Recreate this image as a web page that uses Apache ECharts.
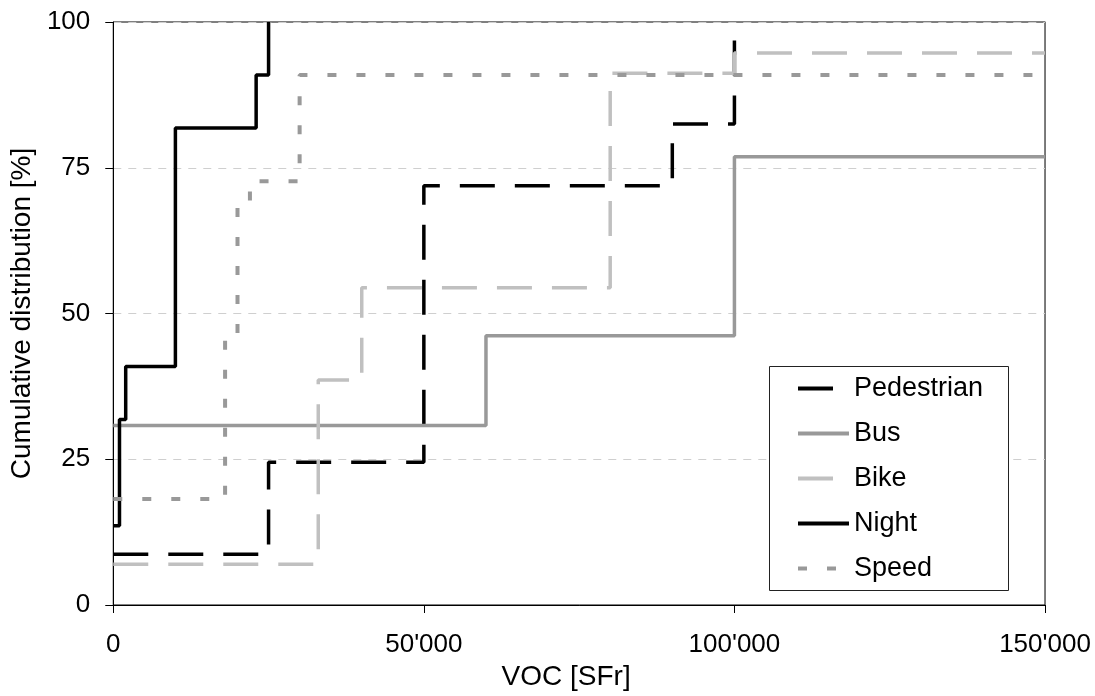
<!DOCTYPE html>
<html>
<head>
<meta charset="utf-8">
<script src="https://cdn.jsdelivr.net/npm/echarts@6/dist/echarts.min.js"></script>
<style>
  html, body { margin: 0; padding: 0; background: #fff; }
  #cdfChart { width: 1095px; height: 696px; }
</style>
</head>
<body>
<div id="cdfChart"></div>
<script>
// step points [VOC in SFr, cumulative %]
var pedestrian = [[0, 8.7], [25000, 24.5], [50000, 71.9], [90000, 82.5], [100000, 100]]
var bus = [[0, 30.8], [60000, 46.2], [100000, 76.9], [150000, 76.9]]
var bike = [[0, 7.0], [33000, 38.6], [40000, 54.4], [80000, 91.2], [100000, 94.7], [150000, 94.7]]
var night = [[0, 13.6], [1000, 31.8], [2000, 40.9], [10000, 81.8], [23000, 90.9], [25000, 100]]
var speed = [[0, 18.2], [18000, 45.5], [20000, 68.2], [22000, 72.7], [30000, 90.9], [150000, 90.9]]

var seriesNames = ['Pedestrian', 'Bus', 'Bike', 'Night', 'Speed']
var xTicks = [0, 50000, 100000, 150000]
var yTicks = [0, 25, 50, 75, 100]

var font = "'Liberation Sans', Arial, sans-serif"

function thousands (v) {
  return String(v).replace(/\B(?=(\d{3})+(?!\d))/g, "'")
}

function stepLine (name, data, color, width, dash) {
  return {
    name: name,
    type: 'line',
    step: 'end',
    data: data,
    symbol: 'none',
    lineStyle: { color: color, width: width, type: dash, cap: 'butt' },
    itemStyle: { color: color }
  }
}

var option = {
  animation: false,
  textStyle: { fontFamily: font },
  grid: {
    left: 113, top: 22, right: 50, bottom: 91,
    show: true, borderColor: '#000', borderWidth: 1
  },
  graphic: [{
    type: 'rect',
    z: 3,
    shape: { x: 769.5, y: 366.5, width: 239, height: 224 },
    style: { fill: '#fff', stroke: '#222', lineWidth: 1 }
  }],
  legend: {
    data: seriesNames,
    orient: 'vertical',
    left: 796,
    top: 375,
    padding: 0,
    itemWidth: 51,
    itemHeight: 14,
    itemGap: 18,
    selectedMode: false,
    z: 10,
    itemStyle: { opacity: 0 },
    lineStyle: { width: 4, cap: 'butt' },
    textStyle: { fontSize: 27, lineHeight: 27, color: '#000', fontFamily: font }
  },
  xAxis: {
    type: 'value',
    min: xTicks[0],
    max: xTicks[xTicks.length - 1],
    interval: 50000,
    name: 'VOC [SFr]',
    nameLocation: 'middle',
    nameGap: 58,
    nameTextStyle: { fontSize: 28, color: '#000', verticalAlign: 'top', padding: [0, 26, 0, 0], fontFamily: font },
    axisLine: { lineStyle: { color: '#000', width: 1 } },
    axisTick: { length: 8, lineStyle: { color: '#000' } },
    axisLabel: { fontSize: 26, color: '#000', margin: 27, formatter: thousands, fontFamily: font },
    splitLine: { show: false }
  },
  yAxis: [{
    type: 'value',
    min: yTicks[0],
    max: yTicks[yTicks.length - 1],
    interval: 25,
    name: 'Cumulative distribution [%]',
    nameLocation: 'middle',
    nameGap: 72,
    nameTextStyle: { fontSize: 28, color: '#000', fontFamily: font },
    axisLine: { show: true, lineStyle: { color: '#000', width: 1 } },
    axisTick: { show: true, length: 8, lineStyle: { color: '#000' } },
    axisLabel: { fontSize: 26, color: '#000', margin: 23, fontFamily: font },
    splitLine: { show: true, lineStyle: { color: '#cfcfcf', width: 1, type: [8, 7] } }
  }, {
    type: 'value',
    position: 'right',
    min: 0,
    max: 100,
    interval: 25,
    axisLine: { show: true, lineStyle: { color: '#777', width: 1 } },
    axisTick: { show: false },
    axisLabel: { show: false },
    splitLine: { show: false }
  }],
  series: [
    stepLine('Pedestrian', pedestrian, '#000000', 3.5, [35, 20]),
    stepLine('Bus', bus, '#999999', 3.5, 'solid'),
    stepLine('Bike', bike, '#c0c0c0', 3.5, [35, 20]),
    stepLine('Night', night, '#000000', 3.5, 'solid'),
    stepLine('Speed', speed, '#999999', 4, [9, 20])
  ]
}

var myChart = echarts.init(document.getElementById('cdfChart'))
myChart.setOption(option)
</script>
</body>
</html>
